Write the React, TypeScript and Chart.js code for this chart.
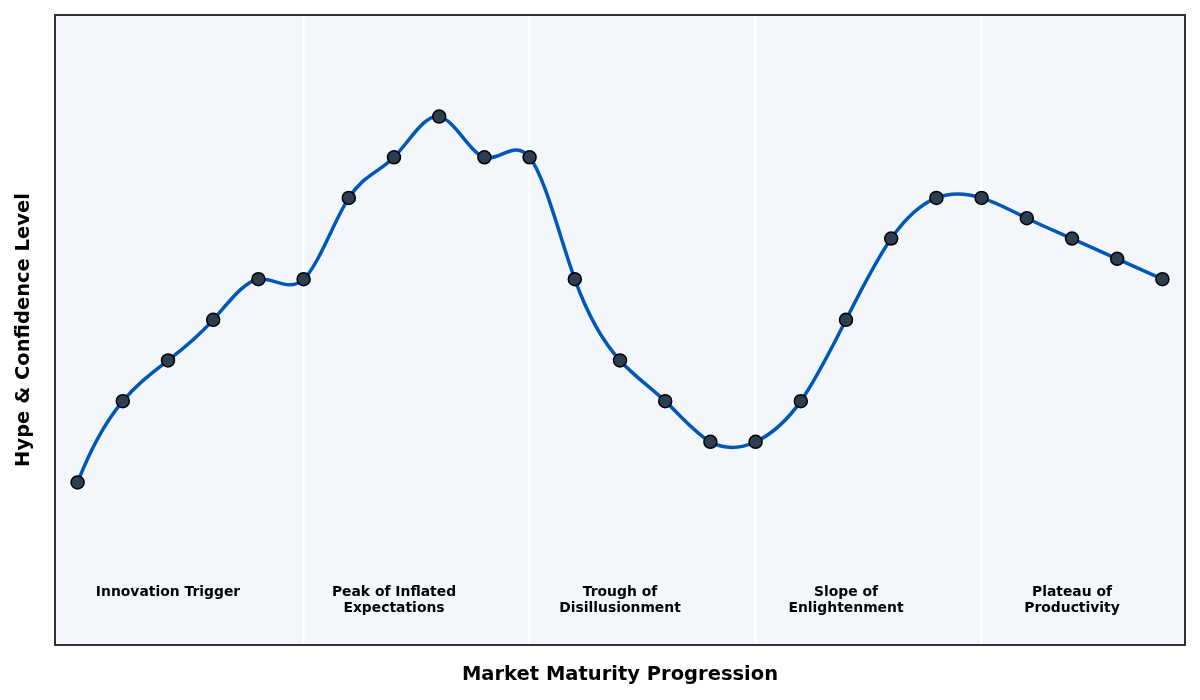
import React, { useEffect, useRef } from "react";
import { Chart, registerables } from "chart.js";

Chart.register(...registerables);

// ---- data ----
const HYPE_VALUES = [20, 40, 50, 60, 70, 70, 90, 100, 110, 100, 100, 70, 50, 40, 30, 30, 40, 60, 80, 90, 90, 85, 80, 75, 70];
const PHASE_BOUNDARIES = [5, 10, 15, 20];
const PHASE_CENTERS = [2, 7, 12, 17, 22];
const PHASE_LABELS = [
  ["Innovation Trigger"],
  ["Peak of Inflated", "Expectations"],
  ["Trough of", "Disillusionment"],
  ["Slope of", "Enlightenment"],
  ["Plateau of", "Productivity"],
];
const LABEL_Y = -7;
const X_TITLE = "Market Maturity Progression";
const Y_TITLE = "Hype & Confidence Level";

const FONT = "'DejaVu Sans', sans-serif";

// not-a-knot cubic spline slopes for uniformly spaced x (h = 1)
function splineSlopes(ys: number[]): number[] {
  const n = ys.length;
  const A: number[][] = Array.from({ length: n }, () => new Array(n).fill(0));
  const b: number[] = new Array(n).fill(0);
  A[0][0] = 1; A[0][1] = -2; A[0][2] = 1;
  for (let i = 1; i < n - 1; i++) {
    A[i][i - 1] = 1; A[i][i] = 4; A[i][i + 1] = 1;
    b[i] = 6 * (ys[i + 1] - 2 * ys[i] + ys[i - 1]);
  }
  A[n - 1][n - 3] = 1; A[n - 1][n - 2] = -2; A[n - 1][n - 1] = 1;
  for (let c = 0; c < n; c++) {
    let p = c;
    for (let r = c + 1; r < n; r++) if (Math.abs(A[r][c]) > Math.abs(A[p][c])) p = r;
    [A[c], A[p]] = [A[p], A[c]];
    [b[c], b[p]] = [b[p], b[c]];
    for (let r = c + 1; r < n; r++) {
      const f = A[r][c] / A[c][c];
      if (f === 0) continue;
      for (let k = c; k < n; k++) A[r][k] -= f * A[c][k];
      b[r] -= f * b[c];
    }
  }
  const M = new Array(n).fill(0);
  for (let r = n - 1; r >= 0; r--) {
    let s = b[r];
    for (let k = r + 1; k < n; k++) s -= A[r][k] * M[k];
    M[r] = s / A[r][r];
  }
  const m: number[] = [];
  for (let i = 0; i < n - 1; i++) m.push(ys[i + 1] - ys[i] - (2 * M[i] + M[i + 1]) / 6);
  m.push(ys[n - 1] - ys[n - 2] + (M[n - 2] + 2 * M[n - 1]) / 6);
  return m;
}

const splinePlugin = {
  id: "splineCurve",
  beforeDatasetDraw(chart: any, args: any) {
    const meta = args.meta;
    const line = meta.dataset;
    if (!line) return;
    line.updateControlPoints(chart.chartArea, meta.iAxis || "x");
    const pts = meta.data;
    const ys = HYPE_VALUES;
    const m = splineSlopes(ys);
    const yScale = chart.scales.y;
    for (let i = 0; i < pts.length; i++) {
      const p = pts[i];
      if (i < pts.length - 1) {
        const h = pts[i + 1].x - p.x;
        p.cp2x = p.x + h / 3;
        p.cp2y = yScale.getPixelForValue(ys[i] + m[i] / 3);
      } else {
        p.cp2x = p.x; p.cp2y = p.y;
      }
      if (i > 0) {
        const h = p.x - pts[i - 1].x;
        p.cp1x = p.x - h / 3;
        p.cp1y = yScale.getPixelForValue(ys[i] - m[i] / 3);
      } else {
        p.cp1x = p.x; p.cp1y = p.y;
      }
    }
  },
};

const decorPlugin = {
  id: "decor",
  beforeDraw(chart: any) {
    const { ctx, chartArea: a } = chart;
    ctx.save();
    ctx.fillStyle = "#f3f6fa";
    ctx.fillRect(a.left, a.top, a.right - a.left, a.bottom - a.top);
    ctx.restore();
  },
  afterDatasetsDraw(chart: any) {
    const { ctx } = chart;
    const xs = chart.scales.x;
    const ysc = chart.scales.y;
    ctx.save();
    ctx.fillStyle = "#000000";
    ctx.font = `bold 13.9px ${FONT}`;
    ctx.textAlign = "center";
    ctx.textBaseline = "middle";
    PHASE_LABELS.forEach((lines, i) => {
      const x = xs.getPixelForValue(PHASE_CENTERS[i]);
      const y0 = ysc.getPixelForValue(LABEL_Y);
      lines.forEach((t, j) => ctx.fillText(t, x, y0 + j * 16));
    });
    ctx.restore();
  },
  afterDraw(chart: any) {
    const { ctx, chartArea: a } = chart;
    ctx.save();
    ctx.strokeStyle = "#333333";
    ctx.lineWidth = 2;
    ctx.strokeRect(a.left, a.top, a.right - a.left, a.bottom - a.top);
    ctx.restore();
  },
};

export default function App() {
  const ref = useRef<HTMLCanvasElement | null>(null);
  useEffect(() => {
    if (!ref.current) return;
    Chart.defaults.font.family = FONT;
    const chart = new Chart(ref.current, {
      type: "line",
      data: {
        datasets: [
          {
            data: HYPE_VALUES.map((y, i) => ({ x: i, y })),
            borderColor: "#0057b7",
            borderWidth: 3.5,
            tension: 0.4,
            fill: false,
            pointRadius: 6.5,
            pointHoverRadius: 6.5,
            pointBackgroundColor: "#2c3e50",
            pointBorderColor: "#000000",
            pointBorderWidth: 1.5,
          },
        ],
      },
      options: {
        responsive: false,
        animation: false,
        layout: { padding: { left: 4, right: 15, top: 15, bottom: 4 } },
        plugins: { legend: { display: false }, tooltip: { enabled: false } },
        scales: {
          x: {
            type: "linear",
            min: -0.5,
            max: 24.5,
            afterBuildTicks: (s: any) => {
              s.ticks = PHASE_BOUNDARIES.map((v) => ({ value: v }));
            },
            ticks: { display: false },
            grid: { color: "#ffffff", lineWidth: 2.5, drawTicks: false },
            border: { display: false },
            title: {
              display: true,
              text: X_TITLE,
              color: "#000000",
              font: { size: 19.5, weight: "bold", family: FONT },
              padding: { top: 18.3, bottom: 9.3 },
            },
          },
          y: {
            type: "linear",
            min: -20,
            max: 135,
            ticks: { display: false },
            grid: { display: false, drawTicks: false },
            border: { display: false },
            title: {
              display: true,
              text: Y_TITLE,
              color: "#000000",
              font: { size: 19.5, weight: "bold", family: FONT },
              padding: { top: 8.3, bottom: 19.3 },
            },
          },
        },
      },
      plugins: [splinePlugin, decorPlugin],
    });
    return () => chart.destroy();
  }, []);
  return (
    <div style={{ position: "fixed", left: 0, top: 0, width: 1200, height: 700, background: "#ffffff" }}>
      <canvas ref={ref} width={1200} height={700} style={{ display: "block" }} />
    </div>
  );
}
